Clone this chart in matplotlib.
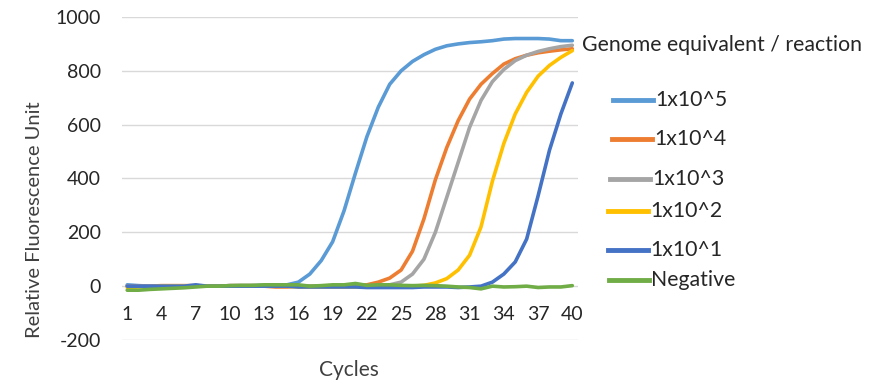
import matplotlib.pyplot as plt
from matplotlib.lines import Line2D

plt.rcParams['font.family'] = ['Lato', 'DejaVu Sans']
plt.rcParams['axes.unicode_minus'] = False

cycles = list(range(1, 41))

# Relative fluorescence per cycle
rfu_1e5 = [5, 2, 0, 0, 0, 0, 0, 0, 0, 2, 2, 2, 3, 4, 5,
           15, 45, 95, 165, 280, 420, 555, 665, 750, 800,
           835, 860, 880, 893, 900, 905, 908, 912, 918, 920,
           920, 920, 918, 912, 912]
rfu_1e4 = [0, 0, 0, 2, 2, 2, 2, 0, 0, 2, 2, 2, 0, -3, -3,
           0, 0, 0, 0, 0, 2, 5, 15, 30, 60,
           130, 250, 395, 515, 615, 695, 750, 790, 825, 845,
           858, 867, 873, 878, 882]
rfu_1e3 = [0, 0, 0, 0, 0, 0, 0, 0, 0, 0, 0, 2, 2, 2, 2,
           0, 0, 0, 0, 0, 0, 0, 2, 5, 15,
           45, 100, 200, 330, 460, 590, 690, 760, 805, 838,
           858, 872, 882, 890, 895]
rfu_1e2 = [-5, -3, -3, 0, 0, 0, 0, 0, 0, 0, 0, 0, 0, 0, 0,
           -3, -3, -3, -3, -3, -3, -2, 0, 0, 0,
           0, 3, 12, 28, 60, 115, 220, 390, 530, 640,
           720, 780, 820, 850, 875]
rfu_1e1 = [0, 0, 0, 0, 0, 0, 5, 0, 0, 0, 0, 0, 0, 0, 0,
           -3, -3, -3, -3, -3, -3, -5, -5, -5, -5,
           -5, -3, -3, -3, -5, -3, 0, 15, 45, 90,
           175, 335, 505, 640, 755]
rfu_neg = [-15, -15, -12, -10, -8, -6, -3, 0, 0, 2, 3, 3, 5, 5, 5,
           5, 0, 2, 5, 5, 10, 3, 5, 5, 3,
           2, 3, 2, 0, -3, -5, -10, 0, -3, -2,
           0, -5, -3, -3, 2]

series = [rfu_1e5, rfu_1e4, rfu_1e3, rfu_1e2, rfu_1e1, rfu_neg]
labels = ['1x10^5', '1x10^4', '1x10^3', '1x10^2', '1x10^1', 'Negative']
colors = ['#5B9BD5', '#ED7D31', '#A5A5A5', '#FFC000', '#4472C4', '#70AD47']
xtick_vals = list(range(1, 41, 3))
ytick_vals = list(range(-200, 1001, 200))

fig = plt.figure(figsize=(8.81, 3.84), dpi=100)
ax = fig.add_axes([121.5 / 881, 1 - 340 / 384, (578 - 121.5) / 881, 323 / 384])

for vals, c in zip(series, colors):
    ax.plot(cycles, vals, color=c, lw=2.6, solid_capstyle='round')

ax.set_xlim(0.5, 40.5)
ax.set_ylim(-200, 1000)
ax.set_yticks(ytick_vals)
ax.set_xticks(xtick_vals)
ax.grid(axis='y', color='#D9D9D9', lw=1)
ax.set_axisbelow(True)
for s in ['top', 'right', 'left']:
    ax.spines[s].set_visible(False)
ax.spines['bottom'].set_position(('data', 0))
ax.spines['bottom'].set_visible(False)
ax.tick_params(axis='y', length=0, pad=15, labelsize=14, labelcolor='#262626')
ax.tick_params(axis='x', length=0, pad=14, labelsize=14, labelcolor='#262626')

fig.text(35 / 881, 1 - 220 / 384, 'Relative Fluorescence Unit', rotation=90,
         ha='center', va='center', fontsize=14.5, color='#404040')
fig.text(349 / 881, 1 - 370 / 384, 'Cycles', ha='center', va='center',
         fontsize=15, color='#404040')
fig.text(582 / 881, 1 - 45 / 384, 'Genome equivalent / reaction', ha='left',
         va='center', fontsize=15.3, color='#262626')

# hand-placed legend entries as in the original
leg_y = [100, 139, 179, 211, 250, 280]
leg_x0 = [613, 612, 610, 608, 608, 609]
for y, x0, c, lab in zip(leg_y, leg_x0, colors, labels):
    fig.add_artist(Line2D([x0 / 881, (x0 + 40) / 881], [1 - y / 384, 1 - y / 384],
                          color=c, lw=3.5, transform=fig.transFigure))
    fig.text((x0 + 42) / 881, 1 - y / 384, lab, ha='left', va='center',
             fontsize=15.3, color='#262626')

fig.savefig('out.png', dpi=100)
